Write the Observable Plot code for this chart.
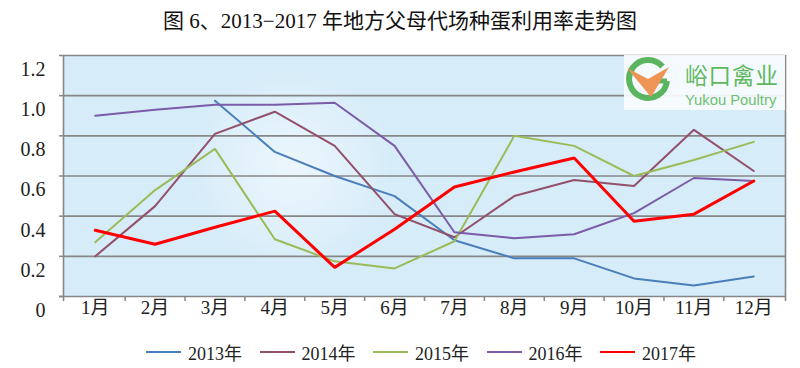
<!DOCTYPE html>
<html>
<head>
<meta charset="utf-8">
<script src="https://cdn.jsdelivr.net/npm/d3@7"></script>
<script src="https://cdn.jsdelivr.net/npm/@observablehq/plot@0.6"></script>
<style>
  html, body { margin: 0; padding: 0; background: #fff; }
  #wrap { position: relative; width: 800px; height: 368px; overflow: hidden; }
  #title { height: 42px; line-height: 42px; text-align: center; font-size: 21px; color: #111;
           font-family: "Liberation Serif", "Noto Sans CJK SC", serif; }
  #legend { height: 36px; box-sizing: border-box; padding-top: 4px; padding-left: 146px; display: flex; align-items: center;
            font-family: "Liberation Serif", "Noto Sans CJK SC", serif; font-size: 18px; color: #222; }
  .item { display: flex; align-items: center; width: 113.5px; flex: none; }
  .sw { width: 35px; height: 2.5px; margin-right: 7px; }
  g[aria-label="ylabels"] text { letter-spacing: 2.5px; }
  #logo { position: absolute; left: 624px; top: 55px; width: 161px; height: 55px; background: rgba(247,251,254,0.92); }
</style>
</head>
<body>
<div id="wrap">
  <div id="title">图 6、2013−2017 年地方父母代场种蛋利用率走势图</div>
  <div id="chart"></div>
  <div id="legend"></div>
  <div id="logo">
    <svg width="161" height="55" xmlns="http://www.w3.org/2000/svg">
      <path d="M 38.5 11.5 A 19 19 0 1 0 43 26" fill="none" stroke="#5BB55E" stroke-width="6"/>
      <path d="M 43 26 L 33 26" stroke="#5BB55E" stroke-width="5"/>
      <polygon points="3,13 24,24 45,12 27,42" fill="#EE9455"/>
      <text x="61" y="28.5" font-family="Noto Sans CJK SC" font-size="22.5" fill="#5DB85F" letter-spacing="1">峪口禽业</text>
      <text x="61" y="49.5" font-family="Liberation Sans" font-size="14.8" fill="#6CBF6E">Yukou Poultry</text>
    </svg>
  </div>
</div>
<script>
const months = ["1月","2月","3月","4月","5月","6月","7月","8月","9月","10月","11月","12月"];
const years = ["2013年","2014年","2015年","2016年","2017年"];
const colors = ["#4A7EBB","#93506A","#9BBB59","#7B5CA6","#FF0000"];
const v2013 = [null, null, 0.975, 0.72, 0.60, 0.50, 0.28, 0.19, 0.19, 0.09, 0.055, 0.10];
const v2014 = [0.20, 0.45, 0.81, 0.92, 0.75, 0.41, 0.295, 0.50, 0.58, 0.55, 0.83, 0.625];
const v2015 = [0.27, 0.53, 0.735, 0.285, 0.175, 0.14, 0.275, 0.80, 0.75, 0.60, 0.68, 0.77];
const v2016 = [0.90, 0.93, 0.955, 0.955, 0.965, 0.75, 0.32, 0.29, 0.31, 0.415, 0.59, 0.575];
const v2017 = [0.33, 0.26, 0.345, 0.425, 0.145, 0.335, 0.545, 0.62, 0.69, 0.375, 0.41, 0.575];
const yTicks = [0, 0.2, 0.4, 0.6, 0.8, 1.0, 1.2];
const yTickLabels = ["0", "0.2", "0.4", "0.6", "0.8", "1.0", "1.2"];

const series = [v2013, v2014, v2015, v2016, v2017];
const rows = series.flatMap((vals, s) => vals.map((v, i) => ({m: i + 1, v, year: years[s]}))).filter(d => d.v != null);
const monthIdx = months.map((d, i) => i + 1);
const bounds = months.slice(1).map((d, i) => i + 1.5);
const xDomain = [0.47, months.length + 0.53];

const grid = "#878787";
const plot = Plot.plot({
  width: 800,
  height: 290,
  marginTop: 13,
  marginBottom: 36,
  marginLeft: 63,
  marginRight: 15,
  style: {fontFamily: '"Liberation Serif", "Noto Sans CJK SC", serif', background: "transparent", color: "#222", overflow: "visible"},
  x: {type: "linear", domain: xDomain, axis: null},
  y: {domain: [0, 1.2], axis: null},
  color: {domain: years, range: colors},
  marks: [
    Plot.frame({fill: "#D6ECF9", stroke: "none"}),
    Plot.frame({fill: "url(#glow)", stroke: "none"}),
    Plot.ruleY(yTicks.slice(1), {stroke: grid, strokeWidth: 1.6}),
    Plot.ruleY(yTicks, {x1: xDomain[0], x2: xDomain[0], insetLeft: -4, stroke: grid, strokeWidth: 1.5}),
    Plot.ruleY([0], {insetLeft: -4, stroke: grid, strokeWidth: 1.6}),
    Plot.ruleX([xDomain[0], xDomain[1]], {insetBottom: -5, stroke: grid, strokeWidth: 1.6}),
    Plot.ruleX(bounds, {y1: 0, y2: 0, insetBottom: -5, stroke: grid, strokeWidth: 1.5}),
    Plot.line(rows.filter(d => d.year !== years[4]), {x: "m", y: "v", z: "year", stroke: "year", strokeWidth: 2, strokeLinejoin: "miter"}),
    Plot.line(rows.filter(d => d.year === years[4]), {x: "m", y: "v", z: "year", stroke: "year", strokeWidth: 3, strokeLinejoin: "miter"}),
    Plot.text(months, {x: (d, i) => monthIdx[i], frameAnchor: "bottom", dy: 17.5, text: d => d, fontSize: 19, fill: "#222"}),
    Plot.text(yTicks, {y: d => d, text: (d, i) => yTickLabels[i], frameAnchor: "left", textAnchor: "end", dx: -18, dy: 14, fontSize: 20, fill: "#222", ariaLabel: "ylabels"})
  ]
});
const ns = "http://www.w3.org/2000/svg";
const defs = document.createElementNS(ns, "defs");
defs.innerHTML = '<radialGradient id="glow" gradientUnits="userSpaceOnUse" cx="290" cy="125" r="105">' +
  '<stop offset="0" stop-color="#ffffff" stop-opacity="0.55"/>' +
  '<stop offset="1" stop-color="#ffffff" stop-opacity="0"/></radialGradient>';
plot.insertBefore(defs, plot.firstChild);
document.getElementById("chart").appendChild(plot);

const legend = document.getElementById("legend");
years.forEach((y, i) => {
  const item = document.createElement("div");
  item.className = "item";
  const sw = document.createElement("span");
  sw.className = "sw";
  sw.style.background = colors[i];
  const t = document.createElement("span");
  t.textContent = y;
  item.appendChild(sw);
  item.appendChild(t);
  legend.appendChild(item);
});
</script>
</body>
</html>
